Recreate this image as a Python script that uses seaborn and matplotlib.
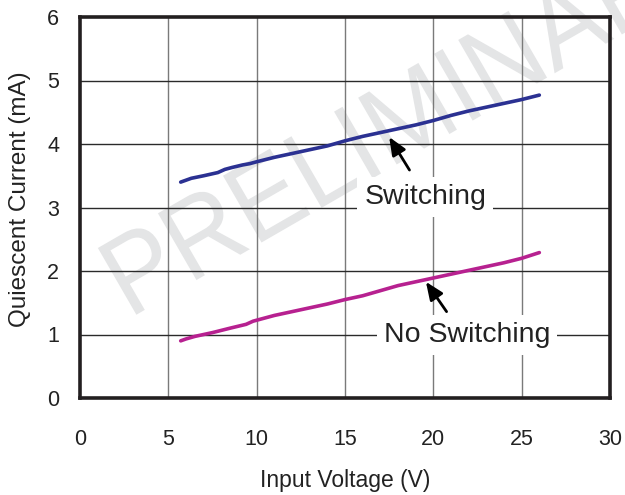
import numpy as np
import pandas as pd
import matplotlib
matplotlib.use("Agg")
import matplotlib.pyplot as plt
import seaborn as sns
from matplotlib.textpath import TextPath
from matplotlib.font_manager import FontProperties
from matplotlib.patches import PathPatch
from matplotlib.transforms import Affine2D

# ---- data ----
sw_x = [5.7, 5.9, 6.3, 7.0, 7.8, 8.2, 8.6, 9.2, 9.6, 10.0, 11.0, 12.0, 13.0, 14.0,
        15.0, 16.0, 17.0, 18.0, 19.0, 20.0, 21.0, 22.0, 23.0, 24.0, 25.0, 26.0]
sw_y = [3.40, 3.42, 3.46, 3.50, 3.55, 3.60, 3.63, 3.67, 3.69, 3.72, 3.79, 3.85, 3.91, 3.97,
        4.05, 4.12, 4.18, 4.24, 4.30, 4.37, 4.45, 4.52, 4.58, 4.64, 4.70, 4.77]
ns_x = [5.7, 6.0, 6.5, 7.5, 8.5, 9.4, 9.8, 10.2, 11.0, 12.0, 13.0, 14.0, 15.0, 16.0,
        17.0, 18.0, 19.0, 20.0, 21.0, 22.0, 23.0, 24.0, 25.0, 26.0]
ns_y = [0.90, 0.93, 0.97, 1.03, 1.10, 1.16, 1.21, 1.24, 1.30, 1.36, 1.42, 1.48, 1.55, 1.61,
        1.69, 1.77, 1.83, 1.89, 1.95, 2.01, 2.07, 2.13, 2.20, 2.29]
x_ticks = [0, 5, 10, 15, 20, 25, 30]
y_ticks = [0, 1, 2, 3, 4, 5, 6]
series_names = ["Switching", "No Switching"]
x_label = "Input Voltage (V)"
y_label = "Quiescent Current (mA)"
watermark = "PRELIMINARY"

df = pd.concat([
    pd.DataFrame({"V": sw_x, "I": sw_y, "mode": series_names[0]}),
    pd.DataFrame({"V": ns_x, "I": ns_y, "mode": series_names[1]}),
])

sns.set_theme(style="white")
plt.rcParams["font.family"] = ["Liberation Sans", "DejaVu Sans"]

W, H = 625, 495
fig = plt.figure(figsize=(W / 100, H / 100), dpi=100)
ax = fig.add_axes([80 / W, 1 - 398 / H, 530 / W, 381 / H])
ax.set_facecolor("none")

# rotated watermark (slightly tall letters), drawn in pixel coordinates
tp = TextPath((0, 0), watermark, size=1, prop=FontProperties(family="Liberation Sans"))
beta = np.deg2rad(30)
a_em, c_em = 104, 112
ox, oy = 129, H - 319
M = np.array([[a_em * np.cos(beta), -c_em * np.sin(beta), ox],
              [a_em * np.sin(beta), c_em * np.cos(beta), oy],
              [0, 0, 1]])
wm = PathPatch(tp, transform=Affine2D(M), fc="#E4E5E6", ec="none", zorder=-5)
fig.add_artist(wm)

palette = {series_names[0]: "#2B3192", series_names[1]: "#B72190"}
sns.lineplot(data=df, x="V", y="I", hue="mode", palette=palette, linewidth=2.6,
             ax=ax, legend=False, sort=False, estimator=None, zorder=4)

ax.set_xlim(0, 30)
ax.set_ylim(0, 6)
ax.set_xticks(x_ticks)
ax.set_yticks(y_ticks)
ax.set_xticklabels([str(t) for t in x_ticks])
ax.set_yticklabels([str(t) for t in y_ticks])
ax.tick_params(axis="both", length=0, labelsize=15.5, labelcolor="#222222")
ax.tick_params(axis="x", pad=22)
ax.tick_params(axis="y", pad=15)

for t in x_ticks[1:-1]:
    ax.axvline(t, color="#7a7a7a", lw=1.0, zorder=1)
for t in y_ticks[1:-1]:
    ax.axhline(t, color="#2a2a2a", lw=1.0, zorder=1)

for s in ax.spines.values():
    s.set_visible(True)
    s.set_color("#231F20")
    s.set_linewidth(2.6)

ax.set_xlabel(x_label, fontsize=16.5, color="#222222")
ax.set_ylabel(y_label, fontsize=17.5, color="#222222")
ax.xaxis.label.set_va("center")
ax.xaxis.set_label_coords(0.5, (398 - 480) / 381)
ax.yaxis.label.set_va("center")
ax.yaxis.set_label_coords((20 - 80) / 530, (398 - 199) / 381)

arrowprops = dict(arrowstyle="-|>,head_length=0.9,head_width=0.38", color="black",
                  lw=2.0, shrinkA=0, shrinkB=0)
ax.annotate("", xy=(17.5, 4.11), xytext=(18.65, 3.59), arrowprops=arrowprops, zorder=5)
ax.annotate("", xy=(19.58, 1.83), xytext=(20.75, 1.36), arrowprops=arrowprops, zorder=5)

box = dict(boxstyle="square,pad=0.25", fc="white", ec="none")
ax.text(19.55, 3.17, series_names[0], fontsize=20.5, ha="center", va="center",
        color="#222222", bbox=box, zorder=3)
ax.text(21.9, 0.99, series_names[1], fontsize=20.5, ha="center", va="center",
        color="#222222", bbox=box, zorder=3)

fig.savefig("out.png", dpi=100)
